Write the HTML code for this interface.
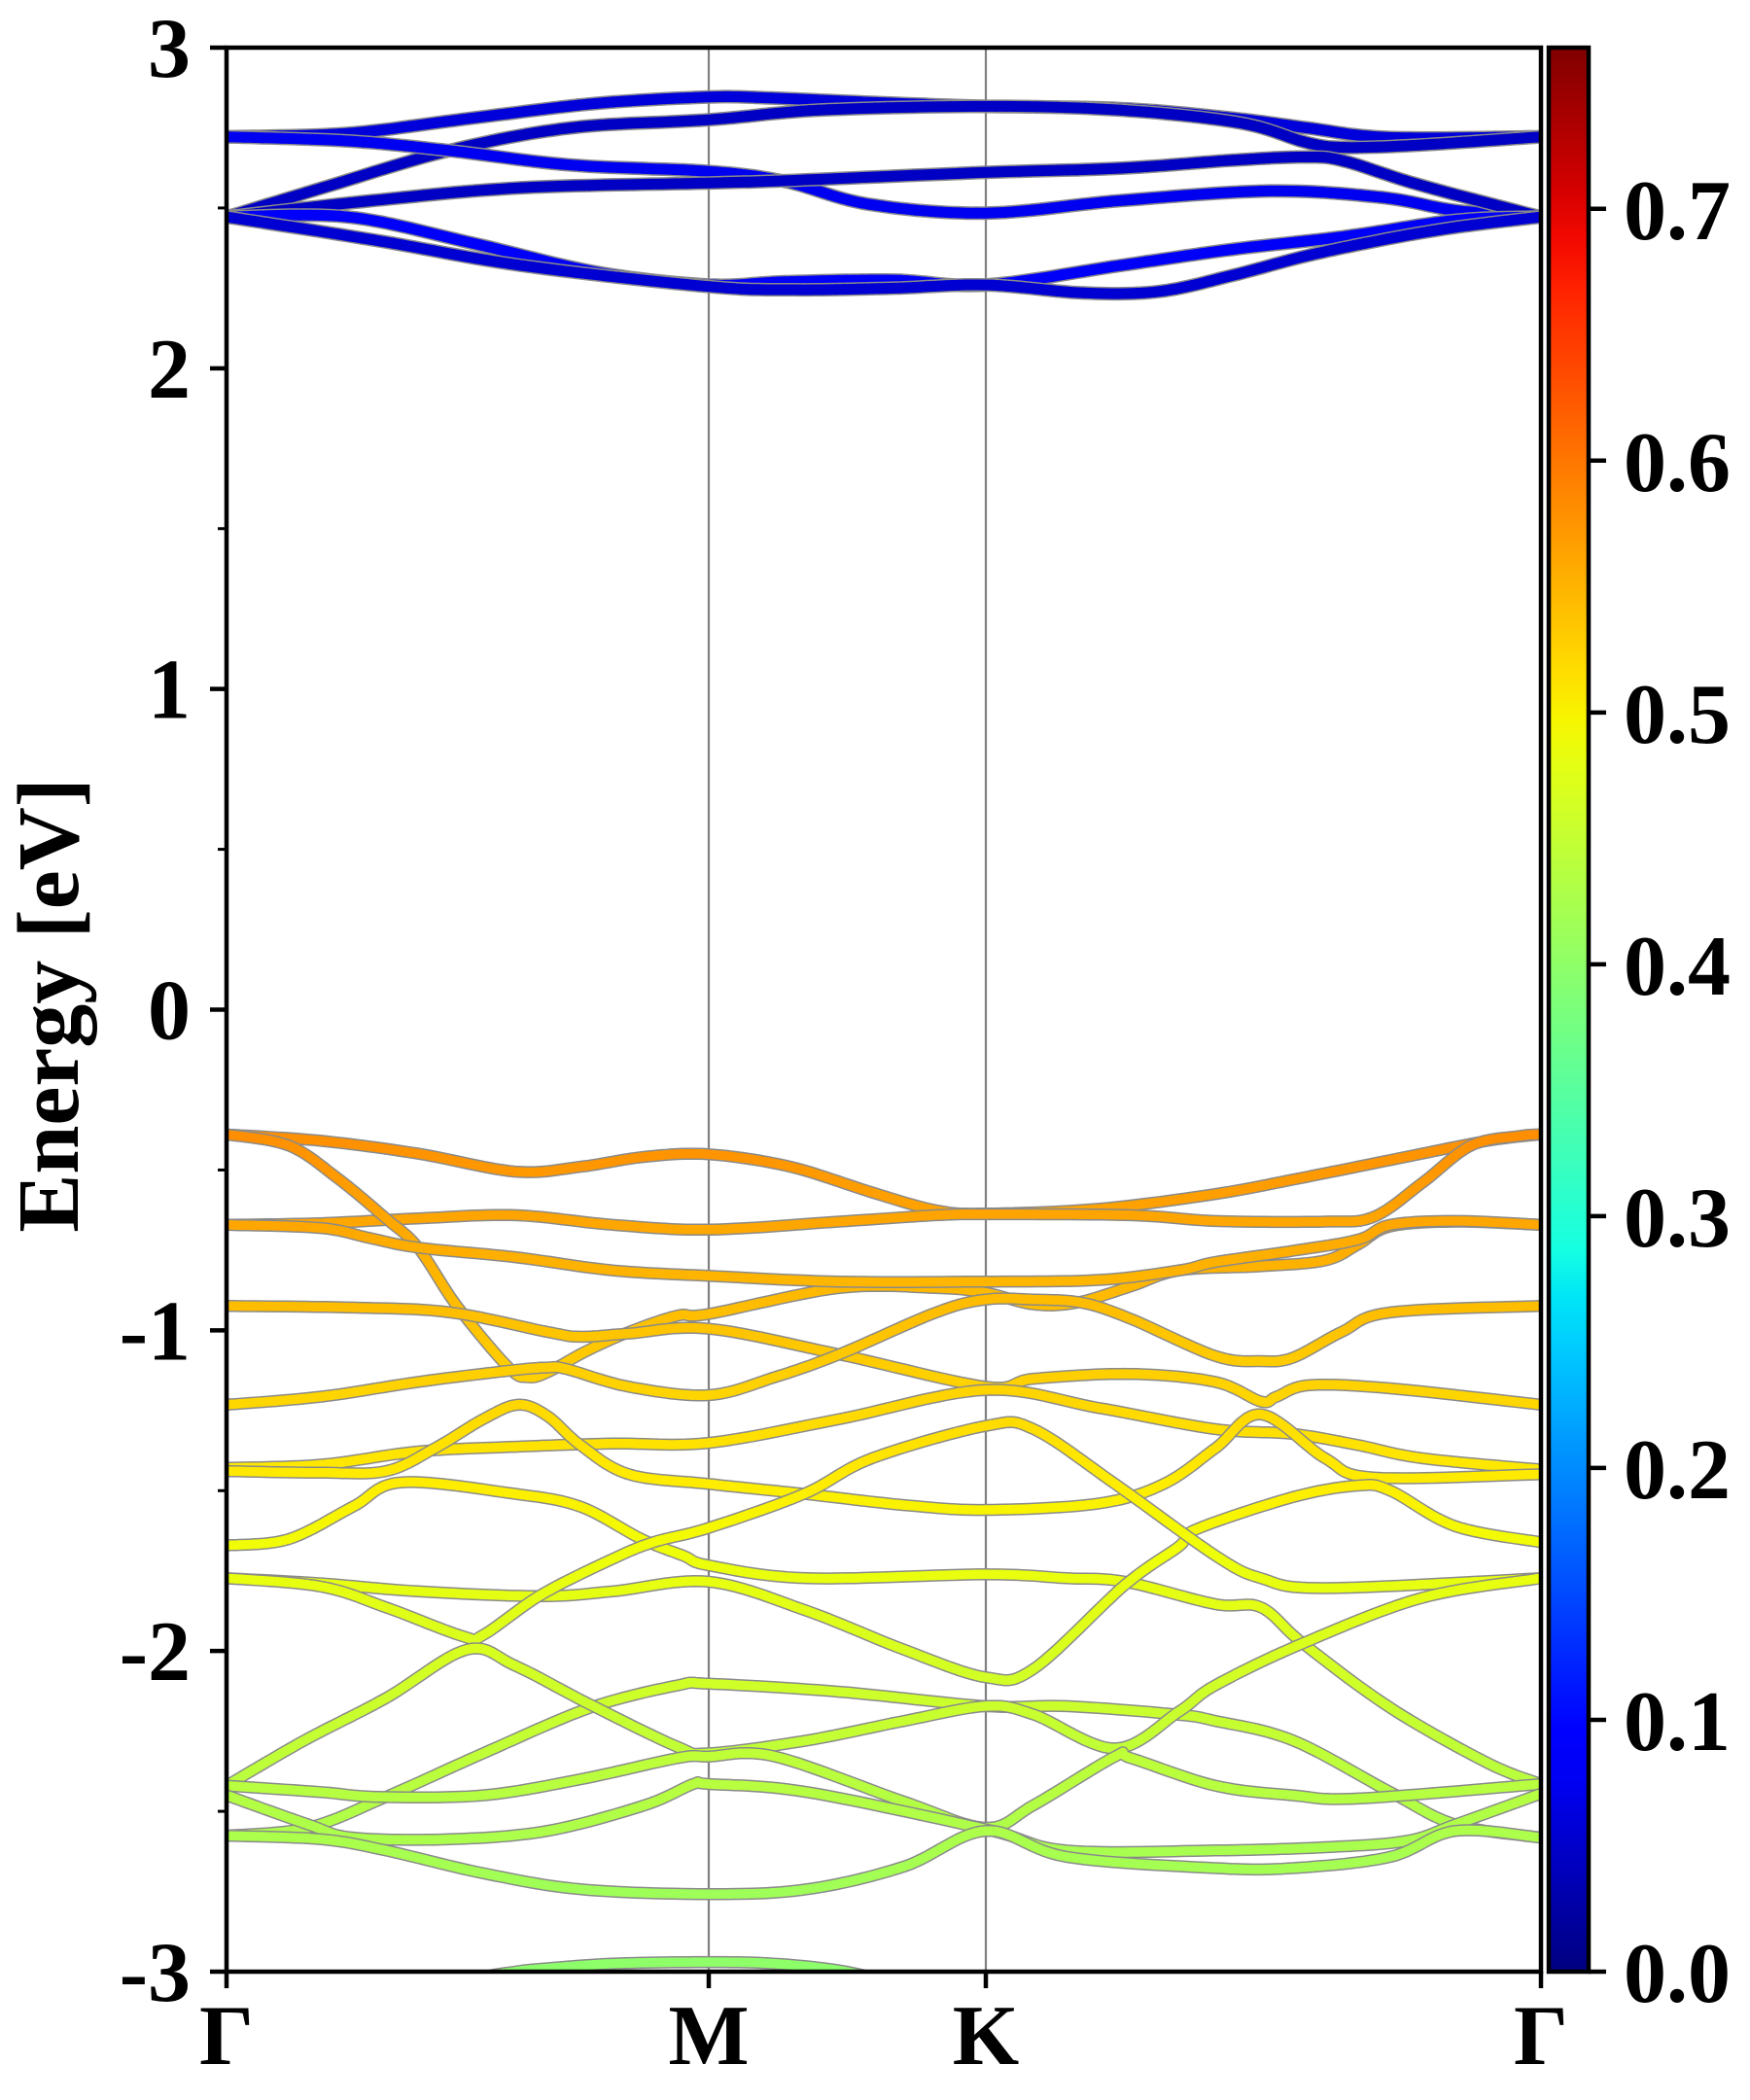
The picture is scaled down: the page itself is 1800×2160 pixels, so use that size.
<!DOCTYPE html>
<html>
<head>
<meta charset="utf-8">
<style>
  html,body{margin:0;padding:0;background:#fff;}
  svg{display:block;}
  text{font-family:"Liberation Serif","Times New Roman",serif;font-weight:bold;fill:#000;}
</style>
</head>
<body>
<svg id="chart" width="1800" height="2160" viewBox="0 0 1800 2160" xmlns="http://www.w3.org/2000/svg">
  <defs>
    <clipPath id="plotClip"><rect x="233" y="49" width="1352" height="1979"/></clipPath>
    <linearGradient id="jetGrad" x1="0" y1="1" x2="0" y2="0"></linearGradient>
  </defs>
  <g id="gridLayer"></g>
  <g id="bandLayer" clip-path="url(#plotClip)"></g>
  <rect x="233" y="49" width="1352" height="1979" fill="none" stroke="#000" stroke-width="4.5"/>
  <g id="axisLayer"></g>
  <text x="0" y="0" font-size="90" font-family="Liberation Serif, serif" font-weight="bold" text-anchor="middle" transform="translate(80,1034) rotate(-90)">Energy [eV]</text>
  <rect x="1593" y="49" width="41" height="1979" fill="url(#jetGrad)" stroke="#000" stroke-width="4.5"/>
  <g id="cbarLayer"></g>
</svg>
<script>
// ---- data ----
const kLabels = ["Γ","M","K","Γ"];
const kTicks = [0, 496, 781, 1352];
const yTicks = [-3,-2,-1,0,1,2,3];
const yMinorTicks = [-2.5,-1.5,-0.5,0.5,1.5,2.5];
const cbarTicks = [0.0,0.1,0.2,0.3,0.4,0.5,0.6,0.7];
const cbarLabels = ["0.0","0.1","0.2","0.3","0.4","0.5","0.6","0.7"];
const cbarMax = 0.764;

// conduction bands (k along path, E in eV)
const condK = [
 [0,125,252,380,496,560,660,781,920,1035,1111,1196,1352],
 [0,99,229,354,496,609,781,920,1043,1111,1150,1226,1352],
 [0,125,229,354,496,574,660,781,920,1073,1188,1265,1352],
 [0,150,303,496,574,781,920,1035,1111,1150,1226,1352],
 [0,125,252,380,496,574,686,781,920,1035,1150,1265,1352],
 [0,150,303,496,584,686,781,882,960,1035,1110,1188,1265,1352]
];
const condE = [
 [2.722,2.733,2.780,2.826,2.846,2.843,2.830,2.817,2.810,2.780,2.750,2.720,2.722],
 [2.472,2.563,2.679,2.750,2.775,2.805,2.817,2.805,2.765,2.704,2.689,2.696,2.722],
 [2.722,2.709,2.679,2.634,2.614,2.583,2.512,2.484,2.523,2.553,2.533,2.492,2.472],
 [2.472,2.523,2.563,2.578,2.585,2.611,2.624,2.649,2.659,2.646,2.573,2.472],
 [2.472,2.472,2.391,2.300,2.260,2.270,2.275,2.260,2.321,2.371,2.411,2.462,2.472],
 [2.472,2.401,2.321,2.255,2.245,2.250,2.260,2.235,2.240,2.290,2.350,2.400,2.440,2.472]
];
const condWeight = [0.06,0.045,0.075,0.045,0.08,0.055];

// valence bands
const valK = [
 [0,97,197,297,364,430,496,580,664,730,781,897,1017,1097,1197,1297,1352],
 [0,97,197,297,397,496,630,730,781,930,1017,1130,1180,1230,1280,1330,1352],
 [0,64,114,164,197,237,290,310,330,370,414,464,496,630,730,781,830,874,930,980,1064,1130,1164,1197,1264,1352],
 [0,97,147,197,297,397,496,630,781,897,980,1017,1097,1164,1197,1264,1352],
 [0,130,230,330,364,414,496,630,781,830,930,1017,1064,1080,1114,1197,1352],
 [0,97,197,290,330,350,414,496,564,630,730,781,830,880,930,1017,1064,1097,1147,1197,1352],
 [0,97,197,297,397,496,630,781,897,1017,1097,1164,1230,1352],
 [0,97,164,214,264,300,330,364,414,496,594,697,781,897,964,1017,1064,1130,1180,1352],
 [0,64,130,180,297,364,427,470,496,597,781,864,924,1017,1064,1107,1197,1297,1352],
 [0,97,197,324,397,496,597,697,781,830,924,980,997,1097,1164,1197,1264,1352],
 [0,97,164,244,264,324,397,440,496,594,664,781,830,914,1017,1064,1130,1352],
 [0,84,164,264,374,464,496,630,781,864,977,1017,1097,1197,1264,1352],
 [0,80,164,247,297,374,464,496,597,697,781,830,914,980,1017,1107,1230,1352],
 [0,97,157,264,364,464,496,564,697,781,830,914,930,1017,1097,1164,1352],
 [0,84,130,230,330,430,480,496,597,781,864,1017,1130,1214,1264,1352],
 [0,97,164,264,364,496,597,697,781,864,1017,1097,1197,1264,1352],
 [240,264,297,324,397,496,564,630,680]
];
const valE = [
 [-0.389,-0.409,-0.449,-0.505,-0.490,-0.459,-0.451,-0.490,-0.570,-0.626,-0.636,-0.621,-0.575,-0.530,-0.469,-0.409,-0.389],
 [-0.671,-0.666,-0.651,-0.641,-0.671,-0.686,-0.661,-0.641,-0.638,-0.641,-0.659,-0.661,-0.646,-0.540,-0.424,-0.394,-0.389],
 [-0.389,-0.424,-0.525,-0.651,-0.742,-0.924,-1.116,-1.146,-1.131,-1.065,-1.005,-0.954,-0.949,-0.868,-0.868,-0.883,-0.919,-0.914,-0.863,-0.813,-0.800,-0.782,-0.732,-0.676,-0.661,-0.671],
 [-0.671,-0.681,-0.712,-0.742,-0.772,-0.813,-0.830,-0.848,-0.848,-0.843,-0.813,-0.787,-0.752,-0.717,-0.671,-0.659,-0.671],
 [-0.924,-0.929,-0.944,-1.005,-1.020,-1.010,-0.995,-1.075,-1.176,-1.151,-1.136,-1.161,-1.222,-1.207,-1.171,-1.181,-1.232],
 [-1.232,-1.207,-1.161,-1.126,-1.116,-1.121,-1.176,-1.202,-1.146,-1.075,-0.944,-0.904,-0.904,-0.914,-0.964,-1.080,-1.096,-1.085,-1.005,-0.944,-0.924],
 [-1.429,-1.419,-1.378,-1.363,-1.353,-1.351,-1.277,-1.186,-1.242,-1.308,-1.323,-1.358,-1.399,-1.434],
 [-1.439,-1.444,-1.439,-1.368,-1.277,-1.232,-1.267,-1.358,-1.449,-1.479,-1.510,-1.545,-1.560,-1.540,-1.479,-1.368,-1.262,-1.399,-1.459,-1.449],
 [-1.671,-1.651,-1.550,-1.474,-1.510,-1.550,-1.651,-1.703,-1.733,-1.773,-1.761,-1.773,-1.784,-1.854,-1.864,-1.976,-2.177,-2.349,-2.415],
 [-1.773,-1.789,-1.814,-1.829,-1.814,-1.784,-1.875,-1.996,-2.082,-2.056,-1.794,-1.673,-1.621,-1.520,-1.484,-1.500,-1.611,-1.661],
 [-1.773,-1.799,-1.864,-1.955,-1.950,-1.824,-1.713,-1.660,-1.616,-1.510,-1.399,-1.298,-1.308,-1.479,-1.702,-1.773,-1.804,-1.773],
 [-2.576,-2.551,-2.455,-2.319,-2.177,-2.107,-2.102,-2.127,-2.172,-2.172,-2.198,-2.218,-2.279,-2.440,-2.541,-2.582],
 [-2.420,-2.279,-2.147,-1.996,-2.046,-2.167,-2.299,-2.319,-2.279,-2.218,-2.172,-2.198,-2.304,-2.188,-2.107,-1.976,-1.834,-1.773],
 [-2.420,-2.440,-2.455,-2.450,-2.400,-2.334,-2.329,-2.329,-2.470,-2.551,-2.481,-2.329,-2.334,-2.420,-2.450,-2.460,-2.415],
 [-2.450,-2.541,-2.582,-2.587,-2.561,-2.481,-2.415,-2.415,-2.440,-2.556,-2.622,-2.622,-2.612,-2.592,-2.541,-2.445],
 [-2.576,-2.587,-2.622,-2.693,-2.743,-2.758,-2.743,-2.672,-2.561,-2.642,-2.677,-2.677,-2.642,-2.561,-2.582],
 [-3.080,-3.020,-3.000,-2.991,-2.975,-2.970,-2.975,-2.996,-3.030]
];

// ---- scales ----
const X0=233, X1=1585, Y0=49, Y1=2028;
const kMax = 1352, eMin=-3, eMax=3;
function xS(k){ return X0 + k/kMax*(X1-X0); }
function yS(e){ return Y0 + (eMax-e)/(eMax-eMin)*(Y1-Y0); }
function cS(w){ return Y1 - w/cbarMax*(Y1-Y0); }
function valWeight(e){ return 0.58 + 0.07*(e+0.39); }

function jet(t){
  t=Math.max(0,Math.min(1,t));
  function interp(pts){
    for(let i=0;i<pts.length-1;i++){
      const a=pts[i], b=pts[i+1];
      if(t>=a[0] && t<=b[0]){ return a[1]+(b[1]-a[1])*(t-a[0])/(b[0]-a[0]||1); }
    }
    return pts[pts.length-1][1];
  }
  const r=interp([[0,0],[0.35,0],[0.66,1],[0.89,1],[1,0.5]]);
  const g=interp([[0,0],[0.125,0],[0.375,1],[0.64,1],[0.91,0],[1,0]]);
  const b=interp([[0,0.5],[0.11,1],[0.34,1],[0.65,0],[1,0]]);
  return 'rgb('+Math.round(r*255)+','+Math.round(g*255)+','+Math.round(b*255)+')';
}

const NS='http://www.w3.org/2000/svg';
function mk(tag, attrs, parent){
  const el=document.createElementNS(NS,tag);
  for(const a in attrs) el.setAttribute(a, attrs[a]);
  parent.appendChild(el);
  return el;
}

// colorbar gradient
const grad=document.getElementById('jetGrad');
for(let i=0;i<=40;i++){
  const t=i/40;
  mk('stop',{offset:t, 'stop-color':jet(t)},grad);
}

// catmull-rom sampling
function sample(ks, es){
  const P=ks.map((k,i)=>[xS(k),yS(es[i])]);
  const out=[];
  for(let i=0;i<P.length-1;i++){
    const p0=P[Math.max(0,i-1)], p1=P[i], p2=P[i+1], p3=P[Math.min(P.length-1,i+2)];
    const n=14;
    for(let j=0;j<n;j++){
      const t=j/n, t2=t*t, t3=t2*t;
      const x=0.5*((2*p1[0])+(-p0[0]+p2[0])*t+(2*p0[0]-5*p1[0]+4*p2[0]-p3[0])*t2+(-p0[0]+3*p1[0]-3*p2[0]+p3[0])*t3);
      const y=0.5*((2*p1[1])+(-p0[1]+p2[1])*t+(2*p0[1]-5*p1[1]+4*p2[1]-p3[1])*t2+(-p0[1]+3*p1[1]-3*p2[1]+p3[1])*t3);
      out.push([x,y]);
    }
  }
  out.push(P[P.length-1]);
  return out;
}

// high-symmetry lines
const gridLayer=document.getElementById('gridLayer');
kTicks.slice(1,3).forEach(k=>{
  const ln=mk('line',{x1:xS(k),x2:xS(k),y1:Y0,y2:Y1,stroke:'#808080','stroke-width':2.2},gridLayer);
  
  
});

// bands
const bandLayer=document.getElementById('bandLayer');
function drawBand(ks, es, weightFn, width, name){
  const pts=sample(ks,es);
  const g=mk('g',{},bandLayer);
  
  
  const d='M'+pts.map(p=>p[0].toFixed(1)+','+p[1].toFixed(1)).join('L');
  mk('path',{d:d,fill:'none',stroke:'#8a8a8a','stroke-width':width+3,'stroke-linejoin':'round'},g);
  for(let i=0;i<pts.length-1;i++){
    const eMid = eMax - ((pts[i][1]+pts[i+1][1])/2 - Y0)/(Y1-Y0)*(eMax-eMin);
    const col=jet(weightFn(eMid) / cbarMax);
    mk('line',{x1:pts[i][0].toFixed(1),y1:pts[i][1].toFixed(1),x2:pts[i+1][0].toFixed(1),y2:pts[i+1][1].toFixed(1),stroke:col,'stroke-width':width,'stroke-linecap':'round'},g);
  }
}
condK.forEach((ks,i)=>drawBand(ks,condE[i],()=>condWeight[i],11,'conduction-band-'+(i+1)));
valK.forEach((ks,i)=>drawBand(ks,valE[i],valWeight,9.5,'valence-band-'+(i+1)));

// axes ticks and labels
const axisLayer=document.getElementById('axisLayer');
yTicks.forEach(v=>{
  const y=yS(v);
  const t=mk('line',{x1:X0-17,x2:X0,y1:y,y2:y,stroke:'#000','stroke-width':4.5},axisLayer);
  
  
  const lb=mk('text',{x:196,y:y+30,'font-size':88,'text-anchor':'end','font-family':'Liberation Serif, serif','font-weight':'bold'},axisLayer);
  lb.textContent=String(v);
  
  
});
yMinorTicks.forEach(v=>{
  const y=yS(v);
  const t=mk('line',{x1:X0-9,x2:X0,y1:y,y2:y,stroke:'#000','stroke-width':3},axisLayer);
  
  
});
kTicks.forEach((k,i)=>{
  const x=xS(k);
  const t=mk('line',{x1:x,x2:x,y1:Y1,y2:Y1+17,stroke:'#000','stroke-width':4.5},axisLayer);
  
  
  const lb=mk('text',{x:x,y:2123,'font-size':88,'text-anchor':'middle','font-family':'Liberation Serif, serif','font-weight':'bold'},axisLayer);
  lb.textContent=kLabels[i];
  
  
});

// colorbar ticks
const cbarLayer=document.getElementById('cbarLayer');
cbarTicks.forEach((v,i)=>{
  const y=cS(v);
  const t=mk('line',{x1:1634,x2:1652,y1:y,y2:y,stroke:'#000','stroke-width':4.5},cbarLayer);
  
  
  const lb=mk('text',{x:1670,y:y+31,'font-size':88,'text-anchor':'start','font-family':'Liberation Serif, serif','font-weight':'bold'},cbarLayer);
  lb.textContent=cbarLabels[i];
  
  
});
</script>
</body>
</html>
